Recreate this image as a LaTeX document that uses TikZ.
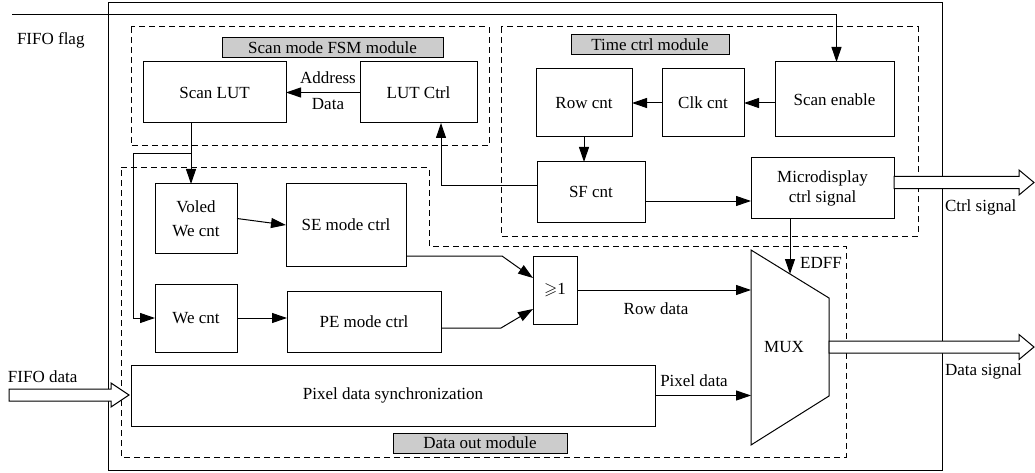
\documentclass[tikz,border=0pt]{standalone}
\usepackage{amssymb}
\usepackage{fontspec}
\setmainfont{Liberation Serif}
\usetikzlibrary{arrows.meta,calc}
\begin{document}
\begin{tikzpicture}[x=1pt,y=-1pt,
  every node/.style={font=\fontsize{17pt}{21pt}\selectfont, inner sep=0pt, outer sep=0pt},
  blk/.style={draw, line width=1pt, align=center},
  ttl/.style={draw, fill=black!20, line width=1pt},
  modbox/.style={draw, line width=1pt, dash pattern=on 6pt off 4pt},
  arr/.style={-{Triangle[length=15pt,width=10pt]}, line width=1pt},
  ln/.style={line width=1pt},
  fat/.style={draw, fill=white, line width=1pt}
]
\useasboundingbox (0,0) rectangle (1035,473);

% outer frame and module frames
\draw[ln] (108,3) rectangle (942,470);
\draw[modbox] (131,27) rectangle (489,146);
\draw[modbox] (501,27) rectangle (918,236);
\draw[modbox] (121,168) -- (429,168) -- (429,246) -- (846,246) -- (846,457) -- (121,457) -- cycle;

% titles
\node[ttl, minimum width=221pt, minimum height=20pt] (tfsm) at (332.5,48) {Scan mode FSM module};
\node[ttl, minimum width=158pt, minimum height=20pt] (ttime) at (650,45) {Time ctrl module};
\node[ttl, minimum width=174pt, minimum height=20pt] (tdata) at (480,443) {Data out module};

% blocks
\node[blk, minimum width=143pt, minimum height=61pt] (scanlut) at (214.5,92.5) {Scan LUT};
\node[blk, minimum width=117pt, minimum height=61pt] (lutctrl) at (418.5,92.5) {LUT Ctrl};
\node[blk, minimum width=119pt, minimum height=75pt] (scanen) at (834.5,99.5) {Scan enable};
\node[blk, minimum width=82pt, minimum height=68pt] (clkcnt) at (703,103) {Clk cnt};
\node[blk, minimum width=96pt, minimum height=68pt] (rowcnt) at (584,103) {Row cnt};
\node[blk, minimum width=108pt, minimum height=60pt] (sfcnt) at (591,192) {SF cnt};
\node[blk, minimum width=143pt, minimum height=60pt, font=\fontsize{17pt}{20pt}\selectfont] (micro) at (822.5,188) {Microdisplay\\ctrl signal};
\node[blk, minimum width=82pt, minimum height=69pt, font=\fontsize{17pt}{24pt}\selectfont] (voled) at (196,218.5) {Voled\\We cnt};
\node[blk, minimum width=120pt, minimum height=82pt] (semode) at (346,225) {SE mode ctrl};
\node[blk, minimum width=82pt, minimum height=68pt] (wecnt) at (196,318) {We cnt};
\node[blk, minimum width=154pt, minimum height=61pt] (pemode) at (364,321.5) {PE mode ctrl};
\node[blk, minimum width=524pt, minimum height=61pt] (pixsync) at (393,395.5) {Pixel data synchronization};
\node[blk, minimum width=44pt, minimum height=68pt] (orgate) at (555,290) {$\geqslant$1};

% MUX
\coordinate (m1) at (751,250);
\coordinate (m2) at (829,298);
\coordinate (m3) at (829,396);
\coordinate (m4) at (751,445);
\draw[ln] (m1) -- (m2) -- (m3) -- (m4) -- cycle;
\node (mux) at (784,347) {MUX};
\coordinate (edffin) at ($(m1)!0.5!(m2)$);

% FIFO flag
\coordinate (ff) at (12,15);
\draw[arr] (ff) -| ([xshift=2pt]scanen.north);
\node[anchor=west] (lflag) at (17,40) {FIFO flag};

% scan mode FSM
\draw[arr] (lutctrl.west) -- (scanlut.east);
\node (laddr) at (328,78) {Address};
\node (ldata) at (328,104) {Data};

% time ctrl
\draw[arr] (scanen.west |- clkcnt.east) -- (clkcnt.east);
\draw[arr] (clkcnt.west) -- (rowcnt.east);
\draw[arr] (rowcnt.south) -- (rowcnt.south |- sfcnt.north);
\draw[arr] ([yshift=-9pt]sfcnt.east) -- ([yshift=-9pt]sfcnt.east -| micro.west);
\draw[arr] ([yshift=6pt]sfcnt.west) -| ([xshift=22.5pt]lutctrl.south);

% data out
\coordinate (br) at (191,154);
\coordinate (bl) at (133,154);
\draw[arr] ([xshift=-5pt]voled.north |- scanlut.south) -- ([xshift=-5pt]voled.north);
\draw[arr] (br) -- (bl) |- (wecnt.west);
\draw[arr] (voled.east) -- (semode.west);
\draw[arr] (wecnt.east) -- (wecnt.east -| pemode.west);
\coordinate (sebend) at (502,256);
\coordinate (pebend) at (501,328);
\draw[arr] ([yshift=-31pt]semode.east) -- (sebend) -- ([yshift=12pt]orgate.west);
\draw[arr] ([yshift=-6.5pt]pemode.east) -- (pebend) -- ([yshift=-19pt]orgate.west);
\draw[arr] (orgate.east) -- (orgate.east -| m1);
\node (lrow) at (656,309) {Row data};
\draw[arr] (pixsync.east) -- (pixsync.east -| m1);
\node (lpix) at (694,381) {Pixel data};
\draw[arr] (edffin |- micro.south) -- (edffin);
\node (ledff) at (821,263) {EDFF};

% hollow arrows
\draw[fat] (9,389) -- (111,389) -- (111,383) -- (129,395) -- (111,407) -- (111,401) -- (9,401) -- cycle;
\node[anchor=west] (lfdata) at (8,377) {FIFO data};
\draw[fat] (micro.east |- 0,176.5) -- (1019,176.5) -- (1019,170) -- (1034,182.5) -- (1019,195) -- (1019,188.5) -- (micro.east |- 0,188.5) -- cycle;
\node[anchor=west] (lctrl) at (945,207) {Ctrl signal};
\draw[fat] (m2 |- 0,341) -- (1019,341) -- (1019,334.5) -- (1034,347) -- (1019,359.5) -- (1019,353) -- (m2 |- 0,353) -- cycle;
\node[anchor=west] (ldsig) at (945,371) {Data signal};
\end{tikzpicture}
\end{document}
